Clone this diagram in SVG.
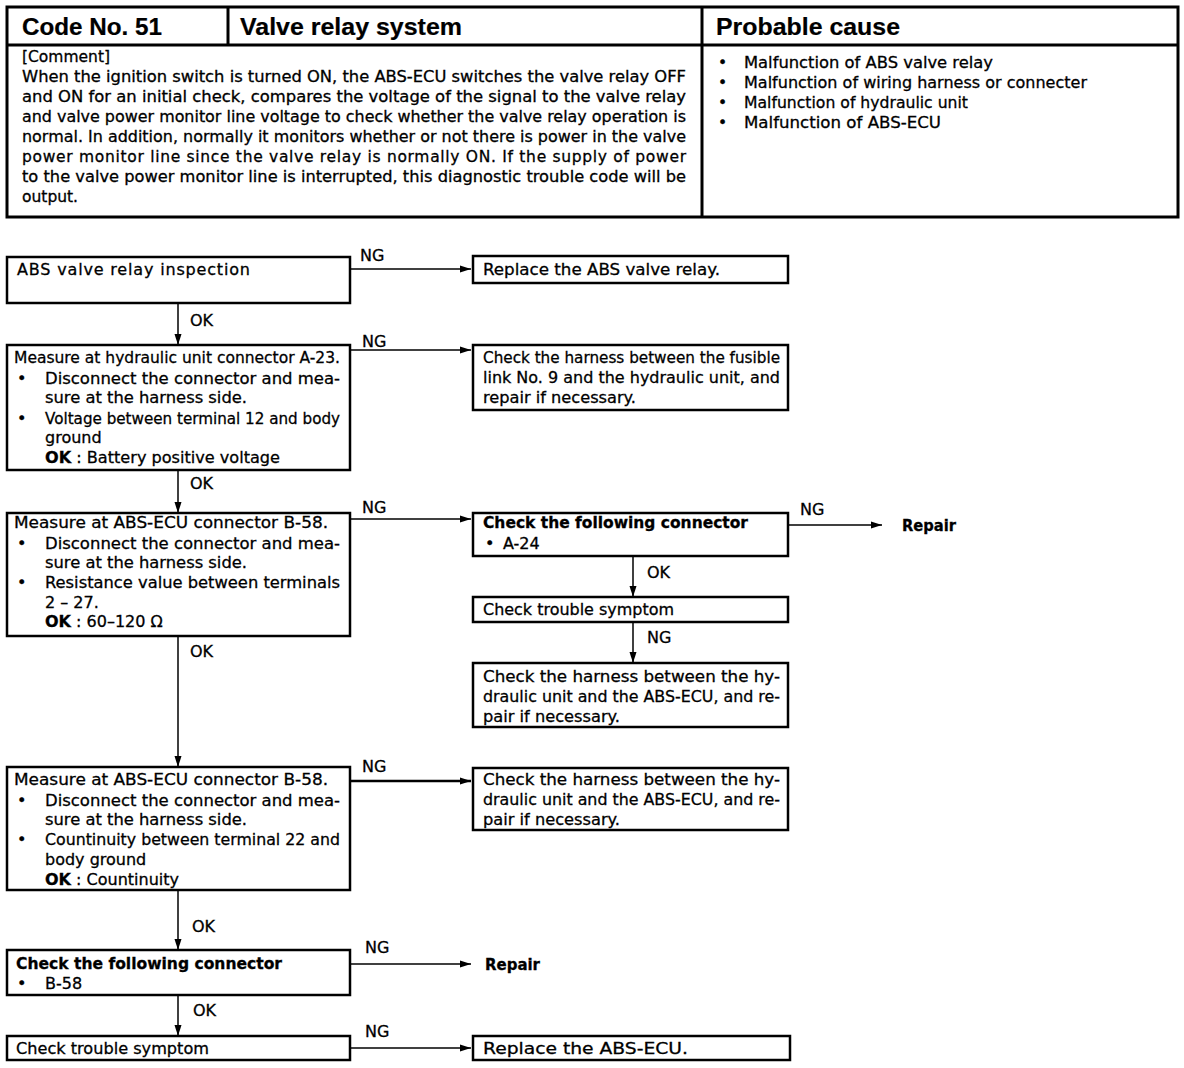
<svg xmlns="http://www.w3.org/2000/svg" width="1184" height="1068" viewBox="0 0 1184 1068">
<defs>
<style>
text{font-family:"DejaVu Sans","Liberation Sans",sans-serif;fill:#000;stroke:#000;stroke-width:0.3}
.h{font-family:"Liberation Sans",Arial,sans-serif;font-size:24px;font-weight:bold;stroke-width:0.2}
.p{font-size:15.5px}
.f{font-size:16px}
.b{font-weight:bold}
.box{fill:#fff;stroke:#000;stroke-width:2.5}
.frame{fill:none;stroke:#000;stroke-width:3}
.ln{stroke:#000;stroke-width:1.5;fill:none}
.thick{stroke-width:2.5}
</style>
<marker id="ah" markerWidth="12" markerHeight="8" refX="11" refY="4" orient="auto" markerUnits="userSpaceOnUse"><path d="M0,0.5 L11,4 L0,7.5 z" fill="#000"/></marker>
</defs>
<rect width="1184" height="1068" fill="#fff"/>

<g id="header">
<rect class="frame" x="7" y="7" width="1171" height="210"/>
<line class="frame" x1="7" y1="45" x2="1178" y2="45"/>
<line class="frame" x1="228" y1="7" x2="228" y2="45"/>
<line class="frame" x1="702" y1="7" x2="702" y2="217"/>
<text class="h" x="22" y="35" textLength="140" lengthAdjust="spacingAndGlyphs">Code No. 51</text>
<text class="h" x="240" y="35" textLength="222" lengthAdjust="spacingAndGlyphs">Valve relay system</text>
<text class="h" x="716" y="35" textLength="184" lengthAdjust="spacingAndGlyphs">Probable cause</text>
<g class="p">
<text x="22" y="62">[Comment]</text>
<text x="22" y="82" textLength="664" lengthAdjust="spacingAndGlyphs">When the ignition switch is turned ON, the ABS-ECU switches the valve relay OFF</text>
<text x="22" y="102" textLength="664" lengthAdjust="spacingAndGlyphs">and ON for an initial check, compares the voltage of the signal to the valve relay</text>
<text x="22" y="122" textLength="664" lengthAdjust="spacingAndGlyphs">and valve power monitor line voltage to check whether the valve relay operation is</text>
<text x="22" y="142" textLength="664" lengthAdjust="spacingAndGlyphs">normal.  In addition, normally it monitors whether or not there is power in the valve</text>
<text x="22" y="162" textLength="664" lengthAdjust="spacing">power monitor line since the valve relay is normally ON.  If the supply of power</text>
<text x="22" y="182" textLength="664" lengthAdjust="spacingAndGlyphs">to the valve power monitor line is interrupted, this diagnostic trouble code will be</text>
<text x="22" y="202">output.</text>
<text x="718" y="68">•</text><text x="744" y="68" textLength="249" lengthAdjust="spacingAndGlyphs">Malfunction of ABS valve relay</text>
<text x="718" y="88">•</text><text x="744" y="88" textLength="343" lengthAdjust="spacingAndGlyphs">Malfunction of wiring harness or connecter</text>
<text x="718" y="108">•</text><text x="744" y="108" textLength="224" lengthAdjust="spacingAndGlyphs">Malfunction of hydraulic unit</text>
<text x="718" y="128">•</text><text x="744" y="128" textLength="197" lengthAdjust="spacingAndGlyphs">Malfunction of ABS-ECU</text>
</g>
</g>

<g id="connectors">
<line class="ln" x1="350" y1="269" x2="471" y2="269" marker-end="url(#ah)"/>
<line class="ln" x1="178" y1="303" x2="178" y2="345" marker-end="url(#ah)"/>
<line class="ln" x1="350" y1="350" x2="471" y2="350" marker-end="url(#ah)"/>
<line class="ln" x1="178" y1="470" x2="178" y2="513" marker-end="url(#ah)"/>
<line class="ln" x1="350" y1="519" x2="471" y2="519" marker-end="url(#ah)"/>
<line class="ln" x1="788" y1="525" x2="882" y2="525" marker-end="url(#ah)"/>
<line class="ln" x1="633" y1="556" x2="633" y2="597" marker-end="url(#ah)"/>
<line class="ln" x1="633" y1="622" x2="633" y2="663" marker-end="url(#ah)"/>
<line class="ln" x1="178" y1="636" x2="178" y2="767" marker-end="url(#ah)"/>
<line class="ln thick" x1="350" y1="781" x2="471" y2="781" marker-end="url(#ah)"/>
<line class="ln" x1="178" y1="890" x2="178" y2="950" marker-end="url(#ah)"/>
<line class="ln" x1="350" y1="964" x2="471" y2="964" marker-end="url(#ah)"/>
<line class="ln" x1="178" y1="995" x2="178" y2="1036" marker-end="url(#ah)"/>
<line class="ln" x1="350" y1="1048" x2="471" y2="1048" marker-end="url(#ah)"/>
<g class="f">
<text x="360" y="261">NG</text>
<text x="190" y="326">OK</text>
<text x="362" y="347">NG</text>
<text x="190" y="489">OK</text>
<text x="362" y="513">NG</text>
<text x="800" y="515">NG</text>
<text x="647" y="578">OK</text>
<text x="647" y="643">NG</text>
<text x="190" y="657">OK</text>
<text x="362" y="772">NG</text>
<text x="192" y="932">OK</text>
<text x="365" y="953">NG</text>
<text x="193" y="1016">OK</text>
<text x="365" y="1037">NG</text>
</g>
</g>

<g id="n1" class="f">
<rect class="box" x="7" y="257" width="343" height="46"/>
<text x="17" y="275" textLength="233" lengthAdjust="spacing">ABS valve relay inspection</text>
</g>
<g id="n1ng" class="f">
<rect class="box" x="473" y="256" width="315" height="27"/>
<text x="483" y="275" textLength="237" lengthAdjust="spacingAndGlyphs">Replace the ABS valve relay.</text>
</g>

<g id="n2" class="f">
<rect class="box" x="7" y="345" width="343" height="125"/>
<text x="14" y="363" textLength="326" lengthAdjust="spacingAndGlyphs">Measure at hydraulic unit connector A-23.</text>
<text x="17" y="384">•</text><text x="45" y="384" textLength="295" lengthAdjust="spacingAndGlyphs">Disconnect the connector and mea-</text>
<text x="45" y="403" textLength="202" lengthAdjust="spacingAndGlyphs">sure at the harness side.</text>
<text x="17" y="424">•</text><text x="45" y="424" textLength="295" lengthAdjust="spacingAndGlyphs">Voltage between terminal 12 and body</text>
<text x="45" y="443">ground</text>
<text x="45" y="463" textLength="235" lengthAdjust="spacingAndGlyphs"><tspan class="b">OK</tspan> : Battery positive voltage</text>
</g>
<g id="n2ng" class="f">
<rect class="box" x="473" y="345" width="315" height="65"/>
<text x="483" y="363" textLength="297" lengthAdjust="spacingAndGlyphs">Check the harness between the fusible</text>
<text x="483" y="383" textLength="297" lengthAdjust="spacingAndGlyphs">link No. 9 and the hydraulic unit, and</text>
<text x="483" y="403" textLength="153" lengthAdjust="spacingAndGlyphs">repair if necessary.</text>
</g>

<g id="n3" class="f">
<rect class="box" x="7" y="513" width="343" height="123"/>
<text x="14" y="528" textLength="314" lengthAdjust="spacingAndGlyphs">Measure at ABS-ECU connector B-58.</text>
<text x="17" y="549">•</text><text x="45" y="549" textLength="295" lengthAdjust="spacingAndGlyphs">Disconnect the connector and mea-</text>
<text x="45" y="568" textLength="202" lengthAdjust="spacingAndGlyphs">sure at the harness side.</text>
<text x="17" y="588">•</text><text x="45" y="588" textLength="295" lengthAdjust="spacingAndGlyphs">Resistance value between terminals</text>
<text x="45" y="608">2 – 27.</text>
<text x="45" y="627"><tspan class="b">OK</tspan> : 60–120 Ω</text>
</g>
<g id="n3ng" class="f">
<rect class="box" x="473" y="513" width="315" height="43"/>
<text class="b" x="483" y="528" textLength="265" lengthAdjust="spacingAndGlyphs">Check the following connector</text>
<text x="485" y="549">•</text><text x="503" y="549">A-24</text>
</g>
<g id="n3repair" class="f">
<text class="b" x="902" y="531" textLength="54" lengthAdjust="spacingAndGlyphs">Repair</text>
</g>
<g id="n3sym" class="f">
<rect class="box" x="473" y="597" width="315" height="25"/>
<text x="483" y="615" textLength="191" lengthAdjust="spacingAndGlyphs">Check trouble symptom</text>
</g>
<g id="n3harness" class="f">
<rect class="box" x="473" y="663" width="315" height="64"/>
<text x="483" y="682" textLength="297" lengthAdjust="spacingAndGlyphs">Check the harness between the hy-</text>
<text x="483" y="702" textLength="297" lengthAdjust="spacingAndGlyphs">draulic unit and the ABS-ECU, and re-</text>
<text x="483" y="722" textLength="137" lengthAdjust="spacingAndGlyphs">pair if necessary.</text>
</g>

<g id="n4" class="f">
<rect class="box" x="7" y="767" width="343" height="123"/>
<text x="14" y="785" textLength="314" lengthAdjust="spacingAndGlyphs">Measure at ABS-ECU connector B-58.</text>
<text x="17" y="806">•</text><text x="45" y="806" textLength="295" lengthAdjust="spacingAndGlyphs">Disconnect the connector and mea-</text>
<text x="45" y="825" textLength="202" lengthAdjust="spacingAndGlyphs">sure at the harness side.</text>
<text x="17" y="845">•</text><text x="45" y="845" textLength="295" lengthAdjust="spacingAndGlyphs">Countinuity between terminal 22 and</text>
<text x="45" y="865">body ground</text>
<text x="45" y="885"><tspan class="b">OK</tspan> : Countinuity</text>
</g>
<g id="n4ng" class="f">
<rect class="box" x="473" y="768" width="315" height="62"/>
<text x="483" y="785" textLength="297" lengthAdjust="spacingAndGlyphs">Check the harness between the hy-</text>
<text x="483" y="805" textLength="297" lengthAdjust="spacingAndGlyphs">draulic unit and the ABS-ECU, and re-</text>
<text x="483" y="825" textLength="137" lengthAdjust="spacingAndGlyphs">pair if necessary.</text>
</g>

<g id="n5" class="f">
<rect class="box" x="7" y="950" width="343" height="45"/>
<text class="b" x="16" y="969" textLength="266" lengthAdjust="spacingAndGlyphs">Check the following connector</text>
<text x="17" y="989">•</text><text x="45" y="989">B-58</text>
</g>
<g id="n5repair" class="f">
<text class="b" x="485" y="970" textLength="55" lengthAdjust="spacingAndGlyphs">Repair</text>
</g>

<g id="n6" class="f">
<rect class="box" x="7" y="1036" width="343" height="24"/>
<text x="16" y="1054" textLength="193" lengthAdjust="spacingAndGlyphs">Check trouble symptom</text>
</g>
<g id="n6ng" class="f">
<rect class="box" x="473" y="1036" width="317" height="24"/>
<text x="483" y="1054" textLength="205" lengthAdjust="spacingAndGlyphs">Replace the ABS-ECU.</text>
</g>
</svg>
